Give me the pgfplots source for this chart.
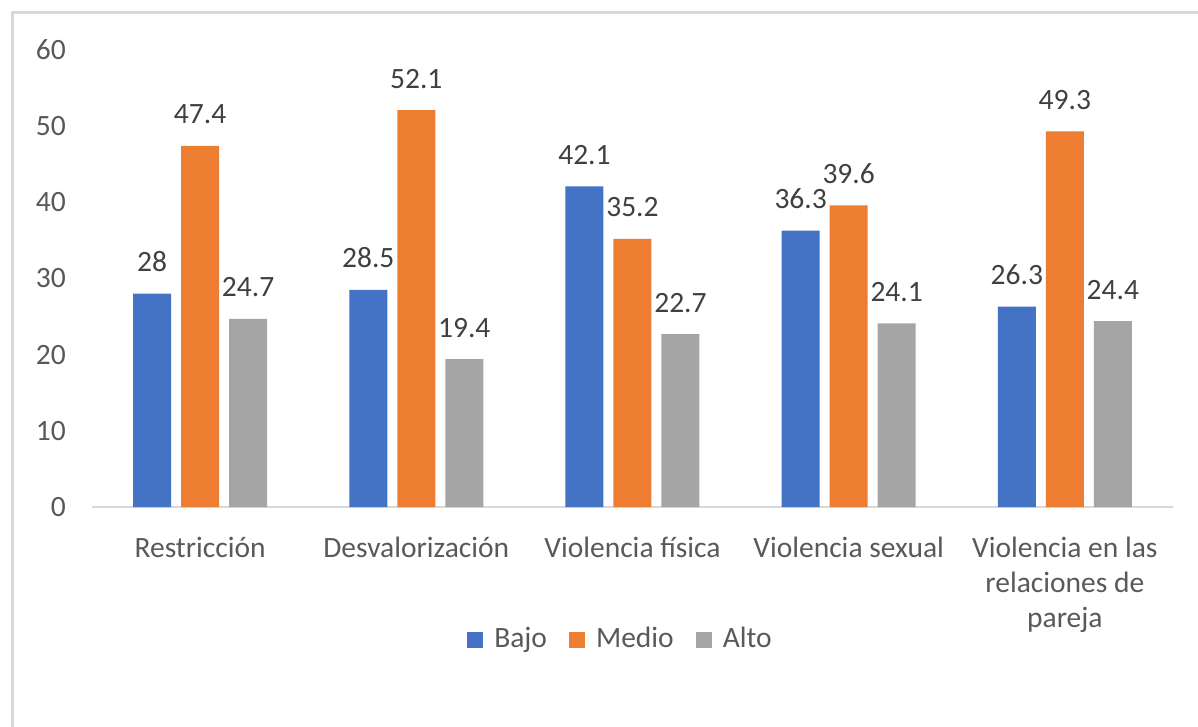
\documentclass[border=0pt]{standalone}
\usepackage{pgfplots}
\pgfplotsset{compat=1.18}
\usepackage{fontspec}
\setmainfont{Carlito}
\definecolor{cblue}{HTML}{4472C4}
\definecolor{corange}{HTML}{ED7D31}
\definecolor{cgray}{HTML}{A5A5A5}
\definecolor{labelgray}{HTML}{595959}
\definecolor{datagray}{HTML}{404040}
\definecolor{linegray}{HTML}{D9D9D9}
\newcommand{\chartfont}{\fontsize{29.5}{35}\selectfont}
\begin{document}
\begin{tikzpicture}[x=1pt,y=1pt]
\useasboundingbox (0,0) rectangle (1198,726);
\begin{scope}
\clip (0,0) rectangle (1198,726);
\draw[linegray, line width=3pt] (12,-10) -- (12,713) -- (1210,713);
\end{scope}
\begin{axis}[
  at={(92pt,219pt)}, anchor=south west,
  scale only axis, width=1081pt, height=457pt,
  xmin=-0.5, xmax=4.5, ymin=0, ymax=60,
  enlargelimits=false,
  ybar=10pt, bar width=38pt,
  axis line style={draw=none},
  major tick length=0pt,
  ytick={0,10,...,60},
  xtick={0,1,2,3,4},
  xticklabels={Restricción, Desvalorización, Violencia física, Violencia sexual, {Violencia en las\\relaciones de\\pareja}},
  /pgf/number format/assume math mode=true,
  tick label style={font=\chartfont, text=labelgray},
  yticklabel style={anchor=east, inner sep=0pt, xshift=-26pt},
  xticklabel style={anchor=north, align=center, inner sep=0pt, yshift=-30pt},
  extra y ticks={0}, extra y tick labels={},
  extra y tick style={grid=major, major grid style={linegray, line width=1.5pt}},
  nodes near coords,
  every node near coord/.append style={font=\chartfont, text=datagray, anchor=base, yshift=22pt, inner sep=0pt},
  legend columns=-1,
  legend style={draw=none, fill=none, at={(0.488,-0.2867)}, anchor=center,
    font=\chartfont, text=labelgray,
    nodes={inner sep=0pt},
    /tikz/every odd column/.append style={column sep=11pt},
    /tikz/every even column/.append style={column sep=22pt}},
  legend image code/.code={\fill[#1] (0pt,-10pt) rectangle (16pt,6pt);},
]
\addplot[fill=cblue, draw=none] coordinates {(0,28) (1,28.5) (2,42.1) (3,36.3) (4,26.3)};
\addplot[fill=corange, draw=none] coordinates {(0,47.4) (1,52.1) (2,35.2) (3,39.6) (4,49.3)};
\addplot[fill=cgray, draw=none] coordinates {(0,24.7) (1,19.4) (2,22.7) (3,24.1) (4,24.4)};
\legend{Bajo, Medio, Alto}
\end{axis}
\end{tikzpicture}
\end{document}
